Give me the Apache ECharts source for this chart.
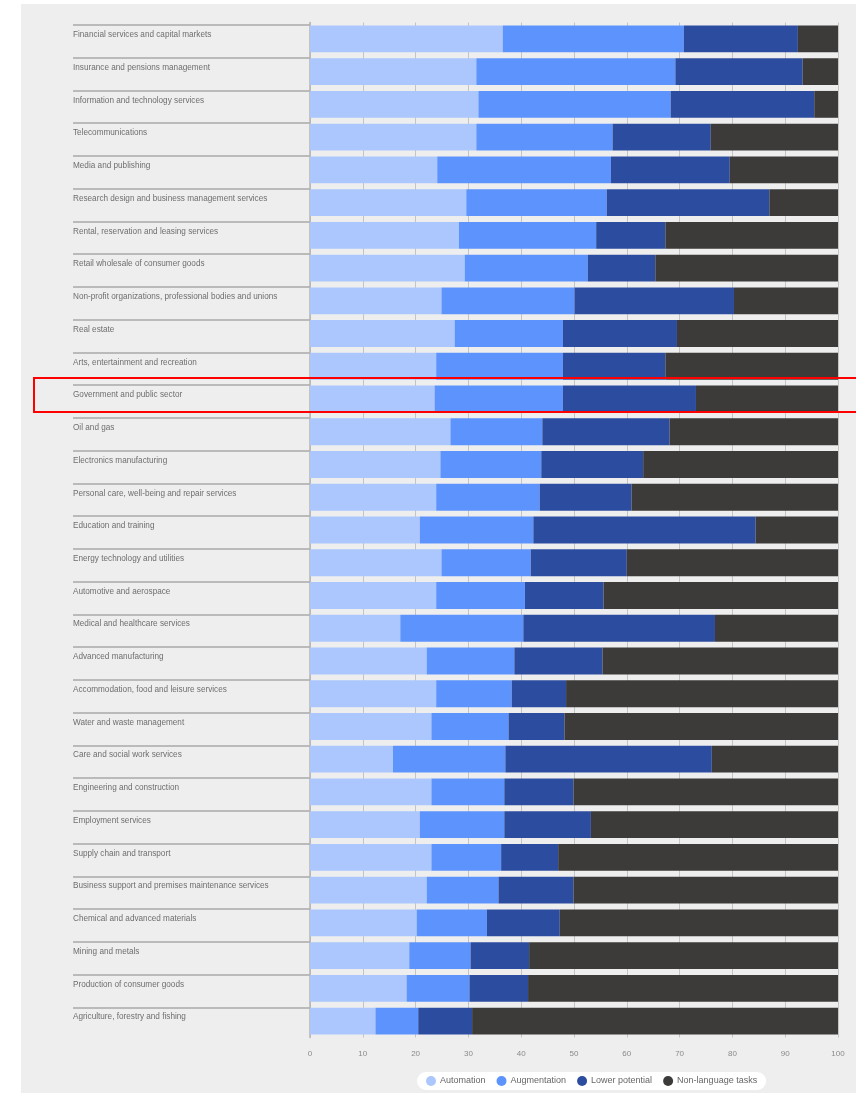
<!DOCTYPE html>
<html lang="en">
<head>
    <meta charset="UTF-8">
    <title>Industries by share of language tasks</title>
    <style>
        html, body { margin: 0; padding: 0; background: #ffffff; }
        #panel { position: absolute; left: 21px; top: 4px; width: 835px; height: 1089px; background: #eeeeee; }
        #container { position: absolute; left: 0; top: 0; width: 856px; height: 1093px; }
    </style>
</head>
<body>
    <div id="panel"></div>
    <div id="container"></div>
    <script src="https://cdn.jsdelivr.net/npm/echarts@6/dist/echarts.min.js"></script>
    <script>
        var categories = [
            'Financial services and capital markets',
            'Insurance and pensions management',
            'Information and technology services',
            'Telecommunications',
            'Media and publishing',
            'Research design and business management services',
            'Rental, reservation and leasing services',
            'Retail wholesale of consumer goods',
            'Non-profit organizations, professional bodies and unions',
            'Real estate',
            'Arts, entertainment and recreation',
            'Government and public sector',
            'Oil and gas',
            'Electronics manufacturing',
            'Personal care, well-being and repair services',
            'Education and training',
            'Energy technology and utilities',
            'Automotive and aerospace',
            'Medical and healthcare services',
            'Advanced manufacturing',
            'Accommodation, food and leisure services',
            'Water and waste management',
            'Care and social work services',
            'Engineering and construction',
            'Employment services',
            'Supply chain and transport',
            'Business support and premises maintenance services',
            'Chemical and advanced materials',
            'Mining and metals',
            'Production of consumer goods',
            'Agriculture, forestry and fishing'
        ];

        var automation     = [36.5, 31.5, 31.9, 31.5, 24.1, 29.6, 28.2, 29.3, 24.9, 27.4, 23.9, 23.6, 26.6, 24.7, 23.9, 20.8,
                              24.9, 23.9, 17.1, 22.1, 23.9, 23.0, 15.7, 23.0, 20.8, 23.0, 22.1, 20.2, 18.8, 18.3, 12.4];
        var augmentation   = [34.3, 37.7, 36.4, 25.8, 32.9, 26.6, 26.0, 23.3, 25.2, 20.5, 24.0, 24.3, 17.4, 19.1, 19.6, 21.5,
                              16.9, 16.8, 23.3, 16.6, 14.3, 14.6, 21.3, 13.8, 16.0, 13.2, 13.6, 13.3, 11.6, 11.9, 8.1];
        var lowerPotential = [21.6, 24.1, 27.2, 18.6, 22.5, 30.8, 13.1, 12.8, 30.2, 21.6, 19.4, 25.2, 24.1, 19.3, 17.4, 42.1,
                              18.2, 14.9, 36.3, 16.7, 10.3, 10.6, 39.1, 13.1, 16.4, 10.8, 14.2, 13.8, 11.1, 11.1, 10.2];
        var nonLanguage    = [7.6, 6.7, 4.5, 24.1, 20.5, 13.0, 32.7, 34.6, 19.7, 30.5, 32.7, 26.9, 31.9, 36.9, 39.1, 15.6,
                              40.0, 44.4, 23.3, 44.6, 51.5, 51.8, 23.9, 50.1, 46.8, 53.0, 50.1, 52.7, 58.5, 58.7, 69.3];

        var highlighted = 'Government and public sector';

        var seriesNames = ['Automation', 'Augmentation', 'Lower potential', 'Non-language tasks'];
        var seriesColors = ['#abc7fd', '#5c93fd', '#2c4c9f', '#3c3b3a'];
        var seriesData = [automation, augmentation, lowerPotential, nonLanguage];

        var font = '"Liberation Sans", Arial, sans-serif';

        // one separator per row top, none under the last row
        var sepColors = categories.map(function () { return '#a9a9a9'; });
        sepColors.push('rgba(0,0,0,0)');

        var myChart = echarts.init(document.getElementById('container'));

        var option = {
            animation: false,
            textStyle: { fontFamily: font },
            grid: [{
                left: 310,
                right: 18,
                top: 22.5,
                height: 1015
            }, {
                left: 73,
                top: 25,
                width: 237,
                height: 1015
            }],
            xAxis: [{
                gridIndex: 0,
                type: 'value',
                min: 0,
                max: 100,
                interval: 10,
                axisLine: { show: false },
                axisTick: { show: false },
                axisLabel: { color: '#8a8a8a', fontSize: 8, margin: 12 },
                splitLine: { show: true, lineStyle: { color: '#c4c4c4', width: 1 } }
            }, {
                gridIndex: 1,
                type: 'value',
                show: false
            }],
            yAxis: [{
                gridIndex: 0,
                type: 'category',
                inverse: true,
                data: categories,
                axisLine: { show: true, lineStyle: { color: '#b4b4b4', width: 1.5 } },
                axisTick: { show: false },
                axisLabel: { show: false },
                splitLine: { show: false }
            }, {
                gridIndex: 1,
                type: 'category',
                inverse: true,
                data: categories,
                axisLine: { show: false },
                axisTick: { show: false },
                axisLabel: {
                    inside: true,
                    align: 'left',
                    margin: 0,
                    fontSize: 8.2,
                    color: '#6e6e6e',
                    verticalAlign: 'bottom',
                    padding: [0, 0, 2.5, 0]
                },
                splitLine: { show: true, lineStyle: { color: sepColors, width: 1.5 } }
            }],
            legend: {
                left: 417,
                top: 1072,
                data: seriesNames,
                icon: 'circle',
                itemWidth: 10,
                itemHeight: 10,
                itemGap: 11,
                padding: [4, 9],
                backgroundColor: '#ffffff',
                borderRadius: 9,
                textStyle: { color: '#666666', fontSize: 9, padding: [0, 0, 0, -1] }
            },
            series: seriesNames.map(function (name, i) {
                return {
                    name: name,
                    type: 'bar',
                    stack: 'total',
                    xAxisIndex: 0,
                    yAxisIndex: 0,
                    barCategoryGap: '18%',
                    itemStyle: { color: seriesColors[i] },
                    data: seriesData[i]
                };
            })
        };

        myChart.setOption(option);

        // red box round the highlighted row
        var cy = myChart.convertToPixel({ yAxisIndex: 0 }, highlighted);
        myChart.setOption({
            graphic: [{
                type: 'rect',
                z: 100,
                shape: { x: 34, y: cy - 21, width: 830, height: 34 },
                style: { fill: 'none', stroke: '#ff0000', lineWidth: 2 }
            }]
        });
    </script>
</body>
</html>
